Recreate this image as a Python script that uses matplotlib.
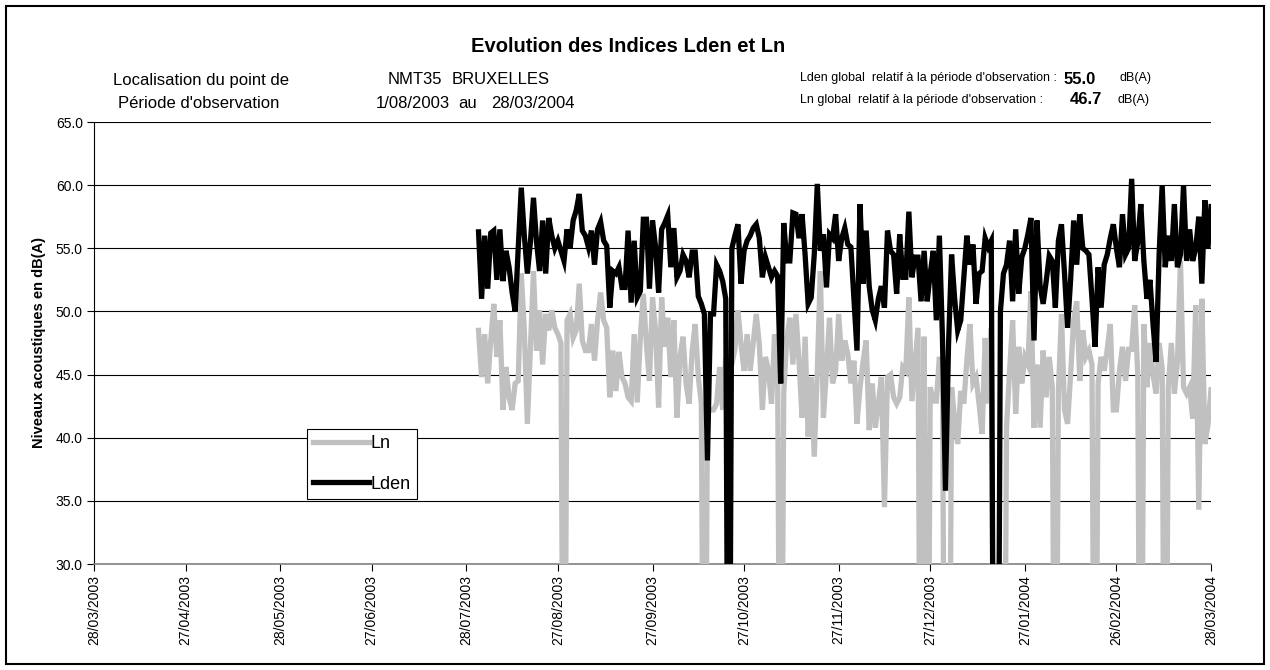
import matplotlib
matplotlib.use("Agg")
import matplotlib.pyplot as plt
from matplotlib.patches import Rectangle
import pandas as pd

plt.rcParams['font.family'] = ['Liberation Sans', 'DejaVu Sans']

# daily values from 1/08/2003 to 28/03/2004 (0 = missing day, drops below the axis)
start_date = '2003-08-01'
lden_values = [
    56.3, 51.0, 56.0, 51.8, 56.2, 56.4, 52.5, 56.5, 52.4, 54.8,
    53.5, 51.5, 50.0, 55.0, 59.8, 56.0, 53.0, 55.5, 59.0, 55.5,
    53.2, 57.2, 53.0, 57.4, 56.0, 55.0, 55.6, 54.8, 54.0, 56.5,
    55.0, 57.2, 58.0, 59.3, 56.4, 56.0, 55.1, 56.4, 53.7, 56.5,
    57.1, 55.6, 55.2, 50.3, 53.2, 53.0, 53.5, 51.9, 51.9, 56.4,
    50.7, 55.6, 51.1, 51.6, 57.3, 57.3, 51.8, 57.2, 55.1, 51.5,
    56.5, 57.0, 57.6, 53.5, 56.6, 52.7, 53.2, 54.5, 54.0, 52.7,
    54.7, 54.7, 51.2, 50.6, 49.8, 38.2, 49.8, 49.8, 53.7, 53.2,
    52.4, 51.0, 0.0, 55.0, 56.0, 56.9, 52.2, 54.8, 55.6, 56.0,
    56.6, 56.9, 55.8, 52.7, 54.3, 53.5, 52.7, 53.2, 52.8, 44.3,
    57.0, 54.0, 54.0, 57.8, 57.7, 55.8, 57.7, 54.5, 50.6, 51.1,
    54.5, 60.1, 54.8, 56.1, 51.9, 56.1, 55.8, 57.7, 54.0, 55.8,
    56.6, 55.3, 55.1, 51.0, 46.9, 58.5, 52.2, 56.4, 52.0, 50.1,
    49.3, 51.0, 52.0, 50.3, 56.4, 54.8, 54.5, 51.4, 56.1, 52.7,
    52.7, 57.9, 52.7, 54.3, 54.3, 50.8, 54.8, 50.8, 53.0, 54.8,
    49.3, 56.0, 48.0, 35.8, 47.4, 54.5, 51.0, 48.5, 49.3, 52.7,
    56.0, 53.7, 55.3, 50.6, 53.0, 53.2, 55.8, 55.1, 55.6, 0.0,
    0.0, 50.0, 53.0, 53.7, 55.6, 50.8, 56.5, 51.4, 54.3, 55.0,
    56.1, 57.4, 47.7, 57.2, 52.0, 50.6, 52.4, 54.4, 54.0, 50.3,
    55.6, 56.9, 53.0, 48.7, 52.5, 57.2, 53.7, 57.7, 55.0, 54.8,
    54.5, 51.0, 47.2, 53.5, 50.3, 53.7, 54.5, 55.8, 56.9, 55.0,
    53.5, 57.7, 54.5, 55.0, 60.5, 54.0, 55.5, 58.5, 54.0, 51.0,
    52.5, 49.0, 46.0, 54.5, 60.0, 53.5, 56.0, 54.0, 58.5, 53.5,
    54.5, 60.0, 54.0, 56.5, 54.0, 55.0, 57.5, 52.2, 58.8, 55.0,
    58.3,
]
ln_values = [
    48.5, 44.8, 48.2, 44.3, 47.7, 50.6, 46.4, 49.3, 42.2, 45.6,
    43.2, 42.2, 44.3, 44.5, 53.0, 48.5, 41.1, 47.2, 53.2, 46.9,
    50.1, 45.8, 49.8, 48.5, 50.1, 48.7, 48.2, 47.5, 0.0, 49.3,
    49.8, 47.9, 48.5, 52.2, 47.7, 46.9, 46.9, 49.0, 46.1, 49.3,
    51.5, 49.3, 48.7, 43.2, 46.9, 43.7, 46.8, 44.8, 44.3, 43.2,
    42.9, 48.2, 42.8, 47.9, 51.4, 47.4, 44.5, 51.1, 48.5, 42.4,
    51.1, 47.2, 49.5, 44.8, 49.3, 41.6, 46.4, 48.0, 44.3, 42.7,
    46.9, 49.0, 44.8, 42.7, 0.0, 42.0, 42.2, 42.2, 42.7, 45.6,
    42.2, 46.4, 45.3, 45.8, 47.0, 50.1, 47.4, 45.3, 48.2, 45.3,
    47.5, 49.8, 47.4, 42.2, 46.4, 45.3, 42.7, 48.2, 45.3, 0.0,
    43.5, 47.9, 49.5, 45.8, 49.8, 46.1, 41.6, 48.0, 40.1, 44.8,
    38.5, 45.3, 53.2, 41.6, 45.3, 49.5, 44.3, 45.3, 49.8, 46.1,
    47.7, 46.6, 44.3, 46.1, 41.1, 44.0, 46.0, 47.7, 40.6, 44.3,
    40.8, 42.7, 44.8, 34.5, 44.8, 45.0, 43.2, 42.7, 43.2, 45.6,
    45.3, 51.1, 42.9, 45.8, 48.7, 0.0, 48.0, 0.0, 44.0, 42.9,
    42.9, 46.4, 45.0, 0.0, 0.0, 44.0, 41.4, 39.5, 43.7, 42.7,
    46.1, 49.0, 44.3, 44.8, 42.7, 40.3, 47.9, 42.7, 48.7, 0.0,
    0.0, 0.0, 0.0, 40.8, 45.3, 49.3, 41.9, 47.2, 44.3, 46.4,
    45.8, 51.6, 40.8, 45.8, 40.8, 46.9, 43.2, 46.4, 44.0, 0.0,
    43.7, 49.8, 42.2, 41.1, 45.0, 49.3, 50.8, 44.5, 48.5, 46.4,
    46.9, 45.8, 0.0, 44.3, 46.4, 45.3, 47.0, 49.0, 42.2, 42.2,
    45.3, 47.2, 44.5, 47.0, 47.0, 50.5, 45.0, 0.0, 49.0, 44.0,
    47.5, 45.0, 43.5, 47.5, 45.5, 0.0, 44.0, 47.5, 43.5, 46.0,
    54.0, 44.0, 43.5, 44.0, 41.5, 50.5, 34.3, 51.0, 39.5, 41.0,
    43.8,
]

tick_labels = ['28/03/2003', '27/04/2003', '28/05/2003', '27/06/2003',
               '28/07/2003', '27/08/2003', '27/09/2003', '27/10/2003',
               '27/11/2003', '27/12/2003', '27/01/2004', '26/02/2004',
               '28/03/2004']
y_ticks = [30, 35, 40, 45, 50, 55, 60, 65]

lden_global = 55.0
ln_global = 46.7

dates = pd.date_range(start_date, periods=len(lden_values), freq='D')
tick_dates = pd.to_datetime(tick_labels, format='%d/%m/%Y')

W, H = 1270, 670
fig = plt.figure(figsize=(W / 100, H / 100), dpi=100)
fig.patch.set_facecolor('white')

def fx(px):
    return px / W

def fy(py):
    return 1 - py / H

ax = fig.add_axes([fx(94), fy(564), fx(1211) - fx(94), fy(122) - fy(564)])

ax.plot(dates, ln_values, color='#c0c0c0', linewidth=3.8, label='Ln',
        solid_joinstyle='miter', zorder=3)
ax.plot(dates, lden_values, color='black', linewidth=3.8, label='Lden',
        solid_joinstyle='miter', zorder=4)

ax.set_xlim(tick_dates[0], tick_dates[-1])
ax.set_ylim(30, 65)
ax.set_yticks(y_ticks)
ax.set_yticklabels([f"{v:.1f}" for v in y_ticks], fontsize=10)
ax.set_xticks(tick_dates)
ax.set_xticklabels(tick_labels, rotation=90, fontsize=10, va='top')

for y in y_ticks[1:]:
    ax.axhline(y, color='black', linewidth=0.8, zorder=1)

for side in ['top', 'right']:
    ax.spines[side].set_visible(False)
ax.spines['left'].set_color('black')
ax.spines['left'].set_linewidth(0.8)
ax.spines['bottom'].set_color('#808080')
ax.spines['bottom'].set_linewidth(1.2)
ax.tick_params(axis='both', direction='out', length=5, width=0.8, pad=3)

ax.set_ylabel('Niveaux acoustiques en dB(A)', fontsize=10.5, fontweight='bold',
              labelpad=7)

leg = ax.legend(loc='upper left', bbox_to_anchor=(fx(307), fy(429)),
                bbox_transform=fig.transFigure, fontsize=13, frameon=True,
                fancybox=False, edgecolor='black', framealpha=1,
                handlelength=3.1, handletextpad=0.05, borderpad=0.35,
                labelspacing=1.3, borderaxespad=0)
leg.get_frame().set_linewidth(0.8)

# header
fig.text(fx(628), fy(47), 'Evolution des Indices Lden et Ln', fontsize=14.5,
         fontweight='bold', ha='center', va='center')
fig.text(fx(113), fy(80), 'Localisation du point de', fontsize=12, va='center')
fig.text(fx(388), fy(80), 'NMT35', fontsize=12, va='center')
fig.text(fx(452), fy(80), 'BRUXELLES', fontsize=12, va='center')
fig.text(fx(118), fy(103), "Période d'observation", fontsize=12, va='center')
fig.text(fx(376), fy(103), '1/08/2003', fontsize=12, va='center')
fig.text(fx(458), fy(103), 'au', fontsize=12, va='center')
fig.text(fx(491), fy(103), '28/03/2004', fontsize=12, va='center')

fig.text(fx(800), fy(78), "Lden global  relatif à la période d'observation :",
         fontsize=9, va='center')
fig.text(fx(1064), fy(80), f"{lden_global:.1f}", fontsize=12, fontweight='bold',
         va='center')
fig.text(fx(1120), fy(78), 'dB(A)', fontsize=9, va='center')
fig.text(fx(800), fy(100), "Ln global  relatif à la période d'observation :",
         fontsize=9, va='center')
fig.text(fx(1070), fy(100), f"{ln_global:.1f}", fontsize=12, fontweight='bold',
         va='center')
fig.text(fx(1117), fy(100), 'dB(A)', fontsize=9, va='center')

# chart border
fig.add_artist(Rectangle((fx(6), fy(664)), fx(1258), fy(6) - fy(664),
                         transform=fig.transFigure, fill=False,
                         edgecolor='black', linewidth=1.5))

fig.savefig('out.png', dpi=100)
